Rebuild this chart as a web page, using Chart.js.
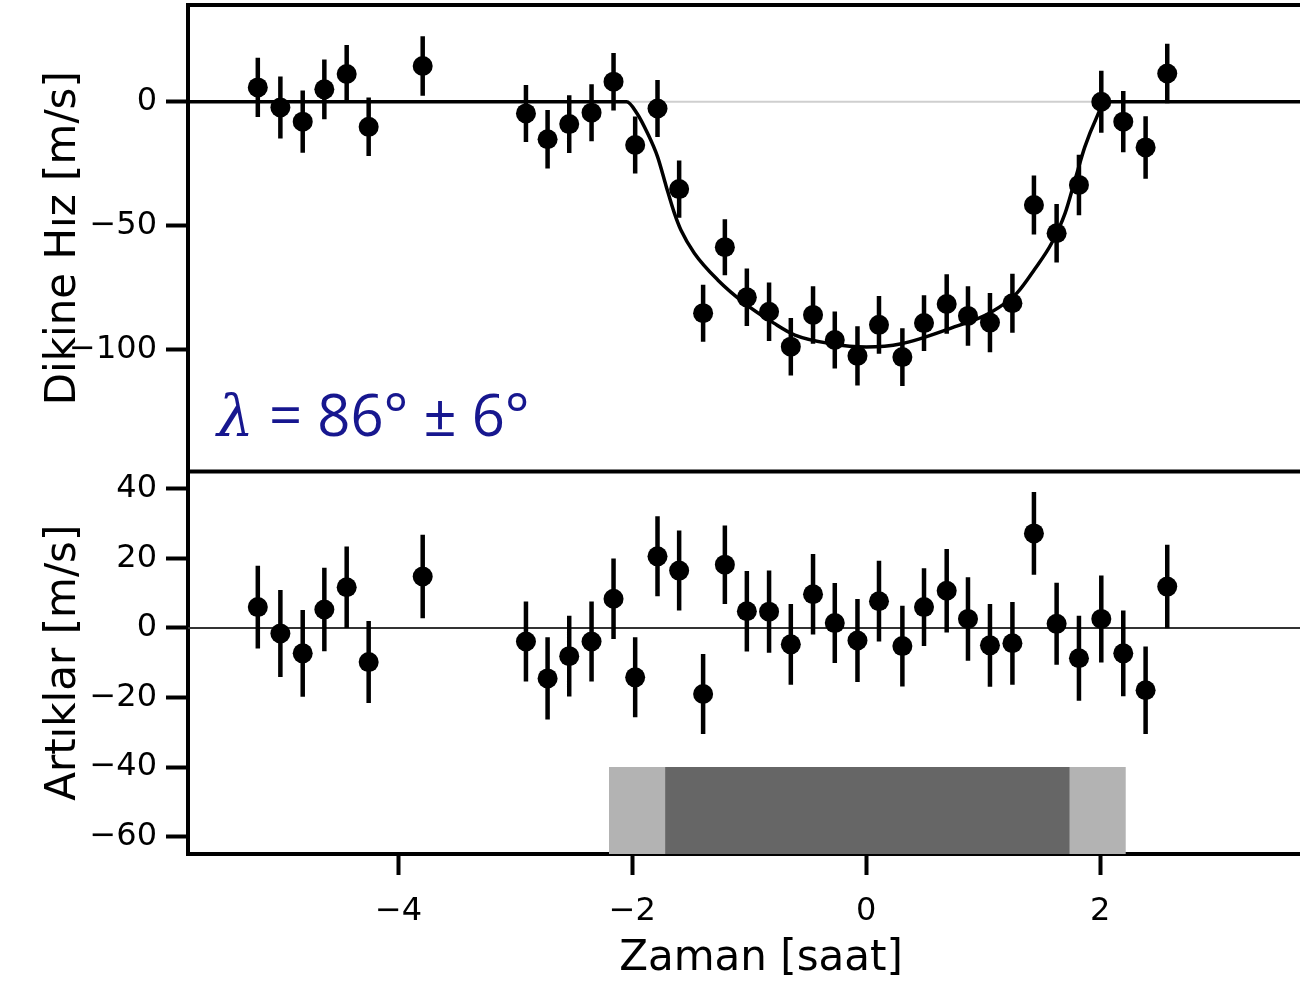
<!DOCTYPE html>
<html>
<head>
<meta charset="utf-8">
<script src="https://cdn.jsdelivr.net/npm/chart.js@4/dist/chart.umd.min.js"></script>
<style>
  html, body { margin: 0; padding: 0; background: #fff; overflow: hidden; }
  #wrap { width: 1340px; height: 996px; }
</style>
</head>
<body>
<div id="wrap"><canvas id="rm" width="1340" height="996"></canvas></div>
<script>
// Observation times relative to mid-transit [h]
const times = [-5.203, -5.010, -4.819, -4.634, -4.443, -4.255, -3.793,
  -2.910, -2.725, -2.540, -2.349, -2.161, -1.976, -1.785, -1.600, -1.395,
  -1.209, -1.021, -0.831, -0.645, -0.455, -0.269, -0.075, 0.109, 0.309,
  0.494, 0.688, 0.870, 1.058, 1.250, 1.434, 1.628, 1.819, 2.010, 2.198,
  2.389, 2.574];

// Radial velocity after removing the orbital trend [m/s]
const velocity = [5.8, -2.3, -8.0, 5.0, 11.2, -10.1, 14.4,
  -4.7, -15.1, -9.0, -4.4, 8.1, -17.4, -2.7, -35.2, -85.2,
  -58.6, -78.8, -84.6, -98.7, -85.9, -96.0, -102.4, -89.9, -102.9,
  -89.2, -81.5, -86.3, -89.0, -81.2, -41.6, -53.0, -33.5, 0.0, -8.0,
  -18.4, 11.4];

// Residuals from the Rossiter-McLaughlin fit [m/s]
const residuals = [6.0, -1.6, -7.3, 5.3, 11.7, -9.8, 14.8,
  -3.9, -14.5, -8.1, -3.9, 8.4, -14.2, 20.6, 16.5, -19.0,
  18.2, 4.8, 4.7, -4.7, 9.7, 1.4, -3.6, 7.7, -5.2,
  6.0, 10.7, 2.6, -5.0, -4.4, 27.2, 1.2, -8.7, 2.6, -7.3,
  -17.9, 11.9];

// 1-sigma uncertainties [m/s]
const errors = [11.9, 12.5, 12.5, 12.0, 11.7, 11.8, 12.0,
  11.5, 11.8, 11.6, 11.5, 11.6, 11.5, 11.5, 11.5, 11.5,
  11.3, 11.6, 11.8, 11.6, 11.6, 11.5, 11.9, 11.6, 11.6,
  11.2, 12.0, 12.0, 11.9, 11.9, 11.9, 11.8, 12.2, 12.5, 12.3,
  12.6, 12.0];

// Best-fit model curve, sampled along the transit
const modelTimes = [-5.8, -2.05, -1.96, -1.87, -1.785, -1.71, -1.64, -1.585,
  -1.47, -1.27, -1.04, -0.79, -0.61, -0.3, 0.0, 0.3, 0.72, 1.06, 1.29,
  1.44, 1.585, 1.70, 1.785, 1.87, 1.96, 2.05, 4.0];
const modelVelocity = [0, 0, -4.7, -12.7, -22.1, -34.2, -45, -51.7,
  -61, -71.8, -81.2, -89.2, -94, -97.5, -98.8, -97.5, -91.3, -85, -77,
  -67.5, -57, -45, -31.5, -18.1, -7.4, 0, 0];

// Transit contacts: first-fourth (light) and second-third (dark) [h]
const outerContacts = [-2.2, 2.22];
const innerContacts = [-1.72, 1.74];
const contactBarTop = -40;

// Axis ranges and tick labels
const timeRange = [-5.8, 4.0];
const velocityRange = [-149, 39];
const residualRange = [-65, 45];
const timeTicks = [-4, -2, 0, 2];
const velocityTicks = [0, -50, -100];
const residualTicks = [40, 20, 0, -20, -40, -60];

// Fitted spin-orbit angle label
const angleLabel = ['\u03bb', '= 86\u00b0 \u00b1 6\u00b0'];
const angleLabelLevel = -134.5;

const pts = (xs, ys) => xs.map((x, i) => ({ x, y: ys[i] }));
const errorSegments = vals => times.flatMap((t, i) => [
  { x: t, y: vals[i] - errors[i] },
  { x: t, y: vals[i] + errors[i] },
  { x: t, y: null }
]);
const band = (range, top) => [{ x: range[0], y: top }, { x: range[1], y: top }];
const signed = v => (v < 0 ? '\u2212' + Math.abs(v) : String(v));
const fixedTicks = values => scale => { scale.ticks = values.map(v => ({ value: v })); };

const tickFont = { family: '"DejaVu Sans", sans-serif', size: 32 };
const titleFont = { family: '"DejaVu Sans", sans-serif', size: 42 };
const axisGrid = { drawOnChartArea: false, drawTicks: true, tickWidth: 4, tickColor: '#000' };
const axisBorder = { display: true, color: '#000', width: 4 };

// Top edge of the plot and the divider between the two panels
const panelFrame = {
  id: 'panelFrame',
  afterDatasetsDraw(chart) {
    const { ctx, chartArea } = chart;
    const divider = chart.scales.yVel.bottom;
    ctx.save();
    ctx.strokeStyle = '#000';
    ctx.lineWidth = 4;
    ctx.beginPath();
    ctx.moveTo(chartArea.left - 2, chartArea.top);
    ctx.lineTo(chartArea.right, chartArea.top);
    ctx.moveTo(chartArea.left - 2, divider);
    ctx.lineTo(chartArea.right, divider);
    ctx.stroke();
    ctx.restore();
  }
};

// Spin-orbit angle written inside the upper panel
const angleText = {
  id: 'angleText',
  afterDatasetsDraw(chart) {
    const { ctx, chartArea } = chart;
    const y = chart.scales.yVel.getPixelForValue(angleLabelLevel);
    ctx.save();
    ctx.fillStyle = '#17178f';
    ctx.textBaseline = 'alphabetic';
    ctx.textAlign = 'left';
    ctx.font = 'italic 58px "DejaVu Serif", serif';
    ctx.fillText(angleLabel[0], chartArea.left + 29, y);
    ctx.font = '58px "Open Sans", sans-serif';
    ctx.fillText(angleLabel[1], chartArea.left + 81, y);
    ctx.restore();
  }
};

new Chart(document.getElementById('rm'), {
  type: 'line',
  data: {
    datasets: [
      { yAxisID: 'yRes', data: band(outerContacts, contactBarTop), fill: 'start',
        backgroundColor: '#b3b3b3', borderWidth: 0, pointRadius: 0, order: 10 },
      { yAxisID: 'yRes', data: band(innerContacts, contactBarTop), fill: 'start',
        backgroundColor: '#666666', borderWidth: 0, pointRadius: 0, order: 9 },
      { yAxisID: 'yVel', data: pts(timeRange, [0, 0]), borderColor: '#cfcfcf',
        borderWidth: 2, pointRadius: 0, order: 8 },
      { yAxisID: 'yRes', data: pts(timeRange, [0, 0]), borderColor: '#333333',
        borderWidth: 2, pointRadius: 0, order: 8 },
      { yAxisID: 'yVel', data: pts(modelTimes, modelVelocity), borderColor: '#000',
        borderWidth: 3.5, pointRadius: 0, cubicInterpolationMode: 'monotone', order: 7 },
      { yAxisID: 'yVel', data: errorSegments(velocity), borderColor: '#000',
        borderWidth: 4.5, pointRadius: 0, spanGaps: false, borderCapStyle: 'butt', order: 6 },
      { yAxisID: 'yRes', data: errorSegments(residuals), borderColor: '#000',
        borderWidth: 4.5, pointRadius: 0, spanGaps: false, borderCapStyle: 'butt', order: 6 },
      { yAxisID: 'yVel', data: pts(times, velocity), showLine: false, pointRadius: 10,
        pointBackgroundColor: '#000', pointBorderWidth: 0, order: 1 },
      { yAxisID: 'yRes', data: pts(times, residuals), showLine: false, pointRadius: 10,
        pointBackgroundColor: '#000', pointBorderWidth: 0, order: 1 }
    ]
  },
  options: {
    responsive: false,
    animation: false,
    devicePixelRatio: 1,
    events: [],
    layout: { autoPadding: false, padding: { top: 5, right: 6, bottom: 0, left: 0 } },
    plugins: { legend: { display: false }, tooltip: { enabled: false } },
    scales: {
      x: {
        type: 'linear', position: 'bottom', min: timeRange[0], max: timeRange[1],
        afterBuildTicks: fixedTicks(timeTicks),
        afterFit: s => { s.height = 142; s.paddingLeft = 0; s.paddingRight = 0; },
        grid: { ...axisGrid, tickLength: 21 },
        border: axisBorder,
        ticks: { font: tickFont, color: '#000', padding: 17, callback: signed,
                 maxRotation: 0, autoSkip: false },
        title: { display: true, text: 'Zaman [saat]', font: titleFont, color: '#000',
                 padding: { top: 4, bottom: 12 } }
      },
      yVel: {
        type: 'linear', position: 'left', stack: 'panels', stackWeight: 466.5, weight: 1,
        min: velocityRange[0], max: velocityRange[1],
        afterBuildTicks: fixedTicks(velocityTicks),
        afterFit: s => { s.width = 188; s.paddingTop = 0; s.paddingBottom = 0; },
        grid: { ...axisGrid, tickLength: 22 },
        border: axisBorder,
        ticks: { font: tickFont, color: '#000', padding: 9, callback: signed },
        title: { display: true, text: 'Dikine Hız [m/s]', font: titleFont, color: '#000',
                 padding: { top: 39, bottom: 0 } }
      },
      yRes: {
        type: 'linear', position: 'left', stack: 'panels', stackWeight: 382.5, weight: 0,
        min: residualRange[0], max: residualRange[1],
        afterBuildTicks: fixedTicks(residualTicks),
        afterFit: s => { s.width = 188; s.paddingTop = 0; s.paddingBottom = 0; },
        grid: { ...axisGrid, tickLength: 22 },
        border: axisBorder,
        ticks: { font: tickFont, color: '#000', padding: 9, callback: signed },
        title: { display: true, text: 'Artıklar [m/s]', font: titleFont, color: '#000',
                 padding: { top: 39, bottom: 0 } }
      }
    }
  },
  plugins: [panelFrame, angleText]
});
</script>
</body>
</html>
